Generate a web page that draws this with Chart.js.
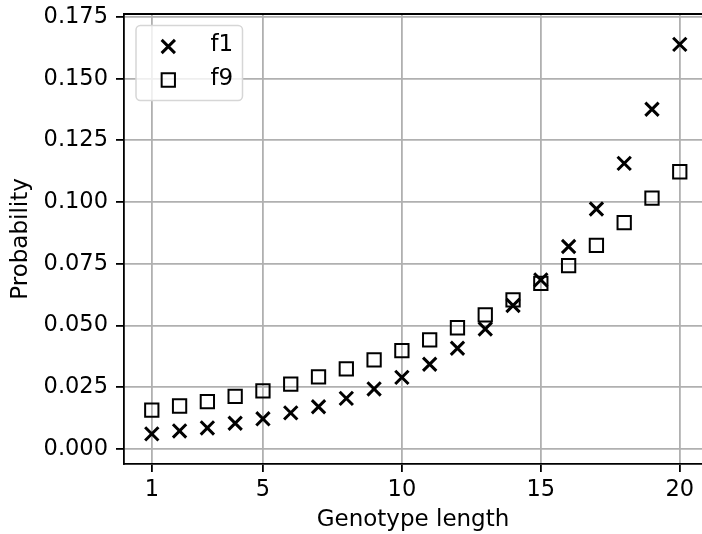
<!DOCTYPE html>
<html>
<head>
<meta charset="utf-8">
<script src="https://cdn.jsdelivr.net/npm/chart.js@4/dist/chart.umd.min.js"></script>
<style>
  html, body { margin: 0; padding: 0; background: #fff; overflow: hidden; }
  canvas { display: block; }
</style>
</head>
<body>
<canvas id="probChart" width="702" height="534"></canvas>
<script>
// genotype lengths (x) and the two series
const genotypeLengths = [1, 2, 3, 4, 5, 6, 7, 8, 9, 10, 11, 12, 13, 14, 15, 16, 17, 18, 19, 20];
const f1Values = [0.0061, 0.0073, 0.0085, 0.0104, 0.0122, 0.0146, 0.0171, 0.0205, 0.0243, 0.0290,
                  0.0343, 0.0408, 0.0486, 0.0581, 0.0685, 0.0820, 0.0972, 0.1157, 0.1376, 0.1639];
const f9Values = [0.0157, 0.0174, 0.0192, 0.0213, 0.0235, 0.0263, 0.0292, 0.0324, 0.0361, 0.0398,
                  0.0442, 0.0491, 0.0543, 0.0604, 0.0671, 0.0743, 0.0825, 0.0917, 0.1016, 0.1123];
const xTicks = [1, 5, 10, 15, 20];
const yTicks = [0, 0.025, 0.05, 0.075, 0.1, 0.125, 0.15, 0.175];

Chart.defaults.font.family = 'DejaVu Sans';
Chart.defaults.font.size = 22.5;
Chart.defaults.color = '#000';

const toPoints = vals => genotypeLengths.map((x, i) => ({ x: x, y: vals[i] }));

// matplotlib style legend box in the upper left + top spine
const boxLegend = {
    id: 'boxLegend',
    afterDraw(chart) {
        const ctx = chart.ctx;
        const area = chart.chartArea;
        ctx.save();
        ctx.strokeStyle = '#000';
        ctx.lineWidth = 1.8;
        ctx.beginPath();
        ctx.moveTo(area.left - 0.9, area.top);
        ctx.lineTo(area.right, area.top);
        ctx.stroke();

        const bx = 136, by = 25.5, bw = 106.5, bh = 75;
        ctx.beginPath();
        ctx.roundRect(bx, by, bw, bh, 4.4);
        ctx.fillStyle = 'rgba(255,255,255,0.8)';
        ctx.fill();
        ctx.strokeStyle = '#d6d6d6';
        ctx.lineWidth = 1.5;
        ctx.stroke();

        chart.data.datasets.forEach((ds, i) => {
            const cy = 46.5 + i * 33.5;
            ctx.fillStyle = 'rgba(0,0,0,0)';
            ctx.strokeStyle = '#000';
            ctx.lineWidth = ds.borderWidth;
            Chart.helpers.drawPoint(ctx, {
                pointStyle: ds.pointStyle,
                radius: ds.pointRadius,
                borderWidth: ds.borderWidth,
                rotation: 0
            }, 168.3, cy);
            ctx.fillStyle = '#000';
            ctx.font = '23px "DejaVu Sans"';
            ctx.textBaseline = 'middle';
            ctx.textAlign = 'left';
            ctx.fillText(ds.label, 210.5, cy - 1);
        });
        ctx.restore();
    }
};

const ctx = document.getElementById('probChart').getContext('2d');
new Chart(ctx, {
    type: 'scatter',
    data: {
        datasets: [{
            label: 'f1',
            data: toPoints(f1Values),
            pointStyle: 'crossRot',
            pointRadius: 9.4,
            borderWidth: 3,
            borderColor: '#000',
            backgroundColor: 'rgba(0,0,0,0)'
        }, {
            label: 'f9',
            data: toPoints(f9Values),
            pointStyle: 'rect',
            pointRadius: 9.4,
            borderWidth: 2,
            borderColor: '#000',
            backgroundColor: 'rgba(0,0,0,0)'
        }]
    },
    options: {
        responsive: false,
        animation: false,
        events: [],
        layout: { autoPadding: false, padding: { top: 14, right: 0, bottom: 0, left: 0 } },
        plugins: {
            legend: { display: false },
            tooltip: { enabled: false }
        },
        scales: {
            x: {
                type: 'linear',
                min: 0,
                max: 20.8,
                afterBuildTicks: scale => { scale.ticks = xTicks.map(v => ({ value: v })); },
                afterFit: scale => {
                    scale.height = 70;
                    scale.paddingLeft = 0;
                    scale.paddingRight = 0;
                },
                ticks: { padding: 5, callback: v => String(v), maxRotation: 0 },
                grid: { color: '#b0b0b0', lineWidth: 1.8, tickColor: '#000', tickLength: 8, tickWidth: 1.8 },
                border: { color: '#000', width: 1.8 },
                title: { display: true, text: 'Genotype length', font: { size: 23 }, padding: { top: 0, bottom: 0 } }
            },
            y: {
                min: -0.0061,
                max: 0.1762,
                afterBuildTicks: scale => { scale.ticks = yTicks.map(v => ({ value: v })); },
                afterFit: scale => {
                    scale.width = 124;
                    scale.paddingTop = 0;
                    scale.paddingBottom = 0;
                },
                ticks: { padding: 8, callback: v => v.toFixed(3) },
                grid: { color: '#b0b0b0', lineWidth: 1.8, tickColor: '#000', tickLength: 8, tickWidth: 1.8 },
                border: { color: '#000', width: 1.8 },
                title: { display: true, text: 'Probability', font: { size: 23 }, padding: { top: 7, bottom: 0 } }
            }
        }
    },
    plugins: [boxLegend]
});
</script>
</body>
</html>
